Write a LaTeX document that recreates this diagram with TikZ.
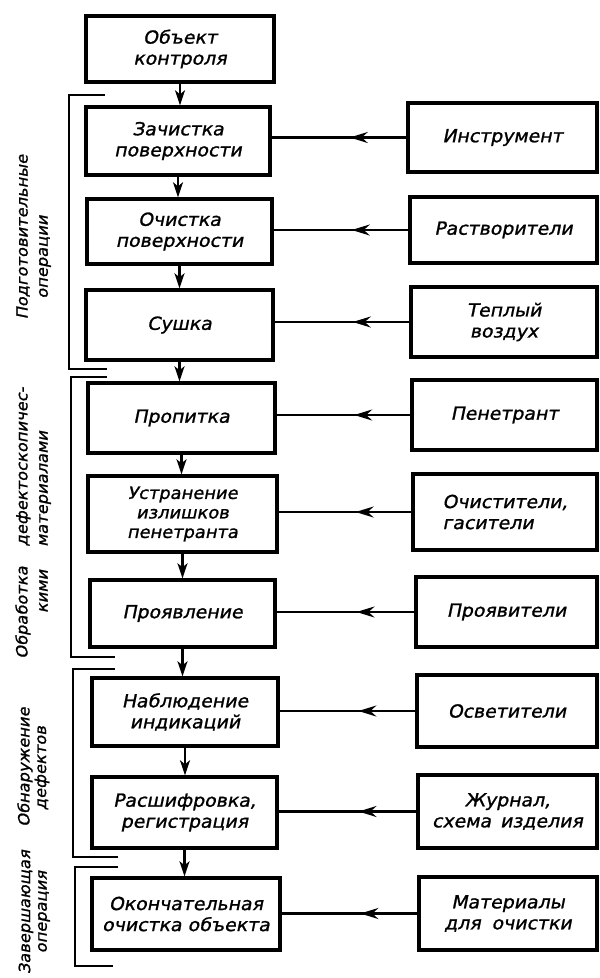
\documentclass[tikz,border=0pt]{standalone}
\usepackage{fontspec}
\setmainfont{DejaVu Sans}[FakeSlant=0.2,FakeStretch=1.05,FakeBold=1.2]
\usetikzlibrary{arrows.meta,decorations.markings}
\tikzset{
  box/.style={draw, line width=3.4pt, inner sep=2pt, align=center,
    font=\fontsize{18}{21}\selectfont},
  conn/.style={line width=2.3pt},
  vtip/.style={-{Stealth[length=15pt,width=10pt,inset=4pt]}},
  harrow/.style={postaction=decorate, decoration={markings,
    mark=at position 0.42 with {\arrow{Stealth[length=18pt,width=11pt,inset=6pt]}}}},
  brk/.style={line width=2.4pt},
  side/.style={rotate=90, inner sep=0pt, font=\fontsize{15.5}{18}\selectfont}
}
\begin{document}
\begin{tikzpicture}[x=1pt,y=-1pt]
\useasboundingbox[fill=white] (0,0) rectangle (600,978);

% left column
\node[box, minimum width=188pt, minimum height=66pt] (L1) at (180,49) {Объект\\контроля};
\node[box, minimum width=184pt, minimum height=68pt] (L2) at (178,141) {Зачистка\\поверхности};
\node[box, minimum width=185pt, minimum height=65pt] (L3) at (179.5,231.5) {Очистка\\поверхности};
\node[box, minimum width=187pt, minimum height=70pt] (L4) at (179.5,325) {Сушка};
\node[box, minimum width=187pt, minimum height=70pt] (L5) at (181.5,418) {Пропитка};
\node[box, minimum width=189pt, minimum height=76pt, font=\fontsize{17}{19.5}\selectfont] (L6) at (182.5,514) {Устранение\\излишков\\пенетранта};
\node[box, minimum width=185pt, minimum height=67pt] (L7) at (182.5,613.5) {Проявление};
\node[box, minimum width=186pt, minimum height=68pt] (L8) at (185,712) {Наблюдение\\индикаций};
\node[box, minimum width=185pt, minimum height=71pt] (L9) at (184.5,812.5) {Расшифровка,\\регистрация};
\node[box, minimum width=188pt, minimum height=72pt] (L10) at (186,914) {Окончательная\\очистка объекта};

% right column
\node[box, minimum width=189pt, minimum height=69pt] (R1) at (502.5,137.5) {Инструмент};
\node[box, minimum width=187pt, minimum height=66pt] (R2) at (503.5,230) {Растворители};
\node[box, minimum width=186pt, minimum height=70pt] (R3) at (504,322) {Теплый\\воздух};
\node[box, minimum width=185pt, minimum height=70pt] (R4) at (504.5,415) {Пенетрант};
\node[box, minimum width=184pt, minimum height=76pt, align=left] (R5) at (505,512) {Очистители,\\гасители};
\node[box, minimum width=181pt, minimum height=70pt] (R6) at (506.5,612) {Проявители};
\node[box, minimum width=180pt, minimum height=72pt] (R7) at (507,711) {Осветители};
\node[box, minimum width=179pt, minimum height=73pt] (R8) at (507.5,811.5) {Журнал,\\схема\hspace{0.5em}изделия};
\node[box, minimum width=178pt, minimum height=73pt] (R9) at (508,913.5) {Материалы\\для\hspace{0.6em}очистки};

% vertical flow
\foreach \a/\b in {L1/L2,L2/L3,L3/L4,L4/L5,L5/L6,L6/L7,L7/L8,L8/L9,L9/L10}
  \draw[conn, vtip] (\a.south) -- (\a.south |- \b.north);

% horizontal inputs
\foreach \r/\l in {R1/L2,R2/L3,R3/L4,R4/L5,R5/L6,R6/L7,R7/L8,R8/L9,R9/L10}
  \draw[conn, harrow] (\r.west) -- (\r.west -| \l.east);

% brackets
\draw[brk] (105,95) -- (69,95) -- (69,369) -- (107,369);
\draw[brk] (107,377) -- (71,377) -- (71,657) -- (115,657);
\draw[brk] (115,669) -- (73,669) -- (73,857) -- (118,857);
\draw[brk] (118,867) -- (75,867) -- (75,966) -- (113,966);

% side labels
\node[side] (S1a) at (23,237) {Подготовительные};
\node[side] (S1b) at (45,257) {операции};
\node[side] (S2a) at (23,523) {Обработка\hspace{20pt}дефектоскопичес-};
\node[side] (S2b) at (45,522) {кими\hspace{23pt}материалами};
\node[side] (S3a) at (25,767) {Обнаружение};
\node[side] (S3b) at (42,768) {дефектов};
\node[side] (S4a) at (26,912) {Завершающая};
\node[side] (S4b) at (44,912) {операция};
\end{tikzpicture}
\end{document}
